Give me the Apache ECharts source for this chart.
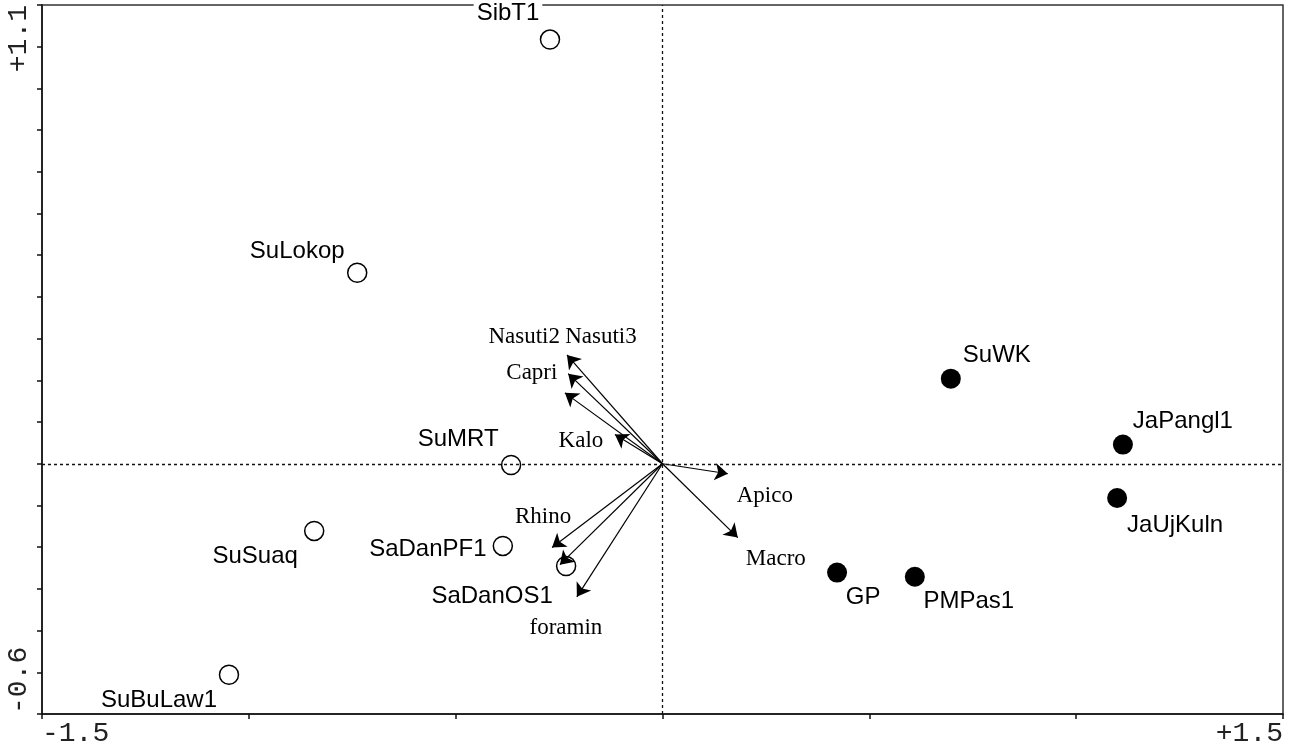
<!DOCTYPE html>
<html><head><meta charset="utf-8">
<script src="https://cdn.jsdelivr.net/npm/echarts@6/dist/echarts.min.js"></script>
<style>html,body{margin:0;padding:0;background:#fff}#c{width:1289px;height:749px}</style>
</head><body><div id="c"></div>
<script>
// ---- data ----
const openSiteNames = ['SibT1', 'SuLokop', 'SuMRT', 'SuSuaq', 'SaDanPF1', 'SaDanOS1', 'SuBuLaw1'];
const openSiteX = [-0.272, -0.738, -0.366, -0.842, -0.386, -0.233, -1.048];
const openSiteY = [1.017, 0.458, -0.003, -0.161, -0.197, -0.245, -0.506];

const filledSiteNames = ['SuWK', 'JaPangl1', 'JaUjKuln', 'GP', 'PMPas1'];
const filledSiteX = [0.697, 1.113, 1.099, 0.422, 0.610];
const filledSiteY = [0.204, 0.046, -0.082, -0.261, -0.271];

const speciesNames = ['Nasuti3', 'Nasuti2', 'Capri', 'Kalo', 'Apico', 'Macro', 'Rhino', '', 'foramin'];
const speciesX = [-0.231, -0.228, -0.236, -0.115, 0.158, 0.182, -0.267, -0.248, -0.207];
const speciesY = [0.261, 0.216, 0.170, 0.070, -0.024, -0.177, -0.201, -0.242, -0.319];

const xMin = -1.5, xMax = 1.5, yMin = -0.6, yMax = 1.1;
const xMinLabel = '-1.5', xMaxLabel = '+1.5';
const yMinLabel = '-0.6', yMaxLabel = '+1.1';

// ---- layout (label offsets in px) ----
const siteLabelOffset = {
  SibT1: [-42, -26], SuLokop: [-60, -21], SuMRT: [-53, -26], SuSuaq: [-59, 25],
  SaDanPF1: [-75, 3], SaDanOS1: [-74, 30], SuBuLaw1: [-70, 26],
  SuWK: [46, -23], JaPangl1: [60, -23], JaUjKuln: [58, 27], GP: [26, 25], PMPas1: [54, 25]
};
const speciesLabelOffset = {
  Nasuti3: [34, -18], Nasuti2: [-44, -37], Capri: [-33, -20], Kalo: [-34, 6],
  Apico: [37, 22], Macro: [38, 21], Rhino: [-9, -31], foramin: [-11, 31]
};

const sansFont = { fontFamily: 'Liberation Sans, Arial, sans-serif', fontSize: 24, color: '#000' };
const serifFont = { fontFamily: 'Liberation Serif, Times New Roman, serif', fontSize: 23, color: '#000' };

function siteData(names, xs, ys) {
  return names.map((n, i) => {
    const d = { name: n, value: [xs[i], ys[i]], label: { offset: siteLabelOffset[n] || [0, 0] } };
    if (n === 'SibT1') { d.label.backgroundColor = '#fff'; d.label.padding = [0, 3]; }
    return d;
  });
}

const eq = (a, b) => Math.abs(a - b) < 1e-9;

const chart = echarts.init(document.getElementById('c'), null, { renderer: 'canvas' });
chart.setOption({
  animation: false,
  backgroundColor: '#fff',
  grid: { left: 42, right: 6, top: 5, bottom: 35, show: true, borderColor: '#333', borderWidth: 1.5, containLabel: false },
  xAxis: {
    type: 'value', min: xMin, max: xMax, interval: 0.5,
    axisLine: { onZero: false, lineStyle: { color: '#111', width: 1.5 } },
    axisTick: { show: true, inside: false, length: 5, lineStyle: { color: '#111', width: 1.5 } },
    splitLine: { show: false },
    axisLabel: {
      margin: 6, fontFamily: 'Liberation Mono, Courier New, monospace', fontSize: 28, color: '#222',
      showMinLabel: true, showMaxLabel: true, alignMinLabel: 'left', alignMaxLabel: 'right',
      formatter: v => eq(v, xMin) ? xMinLabel : (eq(v, xMax) ? xMaxLabel : '')
    }
  },
  yAxis: {
    type: 'value', min: yMin, max: yMax, interval: 0.1,
    axisLine: { onZero: false, lineStyle: { color: '#111', width: 1.5 } },
    axisTick: { show: true, inside: false, length: 5, lineStyle: { color: '#111', width: 1.5 } },
    splitLine: { show: false },
    axisLabel: {
      rotate: 90, margin: 9, fontFamily: 'Liberation Mono, Courier New, monospace', fontSize: 28, color: '#222',
      showMinLabel: true, showMaxLabel: true, alignMinLabel: 'left', alignMaxLabel: 'right',
      formatter: v => eq(v, yMin) ? yMinLabel : (eq(v, yMax) ? yMaxLabel : '')
    }
  },
  series: [
    {
      type: 'scatter', name: 'axes0', symbolSize: 0, data: [],
      markLine: {
        silent: true, symbol: ['none', 'none'], label: { show: false },
        lineStyle: { color: '#111', type: [3, 3], width: 1.3, opacity: 1 },
        data: [{ xAxis: 0 }, { yAxis: 0 }]
      }
    },
    {
      type: 'lines', coordinateSystem: 'cartesian2d', polyline: false, z: 3,
      symbol: ['none', 'arrow'], symbolSize: [0, 13],
      lineStyle: { color: '#000', width: 1.2, opacity: 1, curveness: 0 },
      data: speciesX.map((x, i) => ({ coords: [[0, 0], [x, speciesY[i]]] }))
    },
    {
      type: 'scatter', name: 'species labels', symbolSize: 0, z: 4,
      itemStyle: { opacity: 1 },
      label: Object.assign({ show: true, position: 'inside', formatter: '{b}' }, serifFont),
      data: speciesNames.map((n, i) => ({ name: n, value: [speciesX[i], speciesY[i]], label: { offset: speciesLabelOffset[n] || [0, 0] } }))
    },
    {
      type: 'scatter', name: 'open sites', symbol: 'circle', symbolSize: 19, z: 5,
      itemStyle: { color: 'rgba(255,255,255,0)', borderColor: '#000', borderWidth: 1.5, opacity: 1 },
      label: Object.assign({ show: true, position: 'inside', formatter: '{b}' }, sansFont),
      data: siteData(openSiteNames, openSiteX, openSiteY)
    },
    {
      type: 'scatter', name: 'filled sites', symbol: 'circle', symbolSize: 20, z: 5,
      itemStyle: { color: '#000', opacity: 1 },
      label: Object.assign({ show: true, position: 'inside', formatter: '{b}' }, sansFont),
      data: siteData(filledSiteNames, filledSiteX, filledSiteY)
    }
  ]
});
</script>
</body></html>
